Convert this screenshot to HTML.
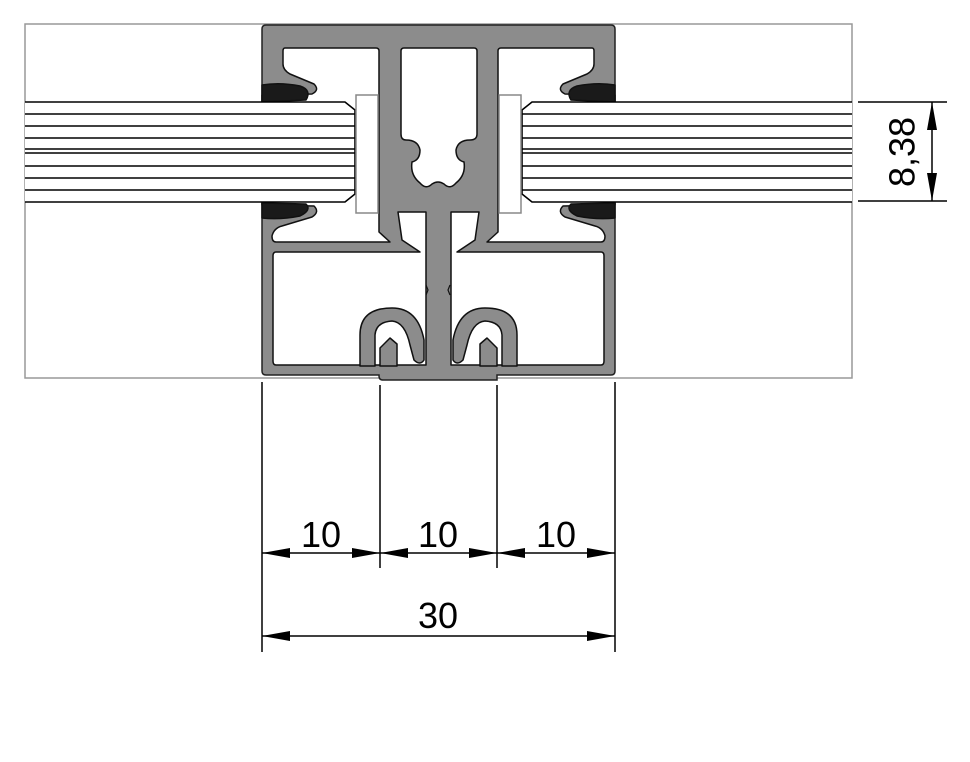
<!DOCTYPE html>
<html><head><meta charset="utf-8"><style>
html,body{margin:0;padding:0;background:#fff;}
svg{display:block;}
text{font-family:"Liberation Sans",sans-serif;fill:#000;}
</style></head><body>
<svg width="970" height="762" viewBox="0 0 970 762" xmlns="http://www.w3.org/2000/svg">
<rect x="25" y="24" width="827" height="354" fill="#fff" stroke="#999" stroke-width="1.5"/>
<path d="M266,25 H611 Q615,25 615,29 V371 Q615,375 611,375 H497 V380 H383 Q379,380 379,376 V375 H266 Q262,375 262,371 V29 Q262,25 266,25 Z" fill="#8c8c8c" stroke="#222" stroke-width="1.5"/>
<g id="half" stroke="#111" stroke-width="1.5" stroke-linejoin="round">
  <path fill="#fff" d="M285,48 H376 Q379,48 379,51 V232 L390,242 H276 Q272,242 272,236 Q274,228 282,226 L312,217 Q320,212 314,206 L262,205 V95 L312,94 Q320,90 314,84 L290,74 Q283,70 283,64 V51 Q283,48 285,48 Z"/>
  <path fill="#fff" d="M398,212 H426 V365 H276 Q273,365 273,361 V256 Q273,252 276,252 H420 L402,240 Z"/>
  <path fill="#8c8c8c" d="M360,366 V335 Q360,308 392,308 Q418,308 424,340 L424,360 Q420,366 414,360 L410,345 Q405,322 392,321 Q376,322 375,335 V366 Z"/>
  <path fill="#8c8c8c" d="M380,366 V348 L390,338 L397,344 V366 Z"/>
  <path d="M262,85 Q280,82 300,86 Q312,90 306,100 L262,102 Z" fill="#1a1a1a"/>
  <path d="M262,203 L306,204 Q312,210 300,216 Q280,220 262,218 Z" fill="#1a1a1a"/>
</g>
<use href="#half" transform="translate(877,0) scale(-1,1)"/>
<path d="M404,48 H474 Q477,48 477,51 V134 Q477,140 470,140 Q458,140 456,150 Q456,160 464,162 Q466,175 456,183 Q450,190 444,184 Q438,180 432,184 Q426,190 420,183 Q410,175 412,162 Q420,160 420,150 Q418,140 406,140 Q401,140 401,134 V51 Q401,48 404,48 Z" fill="#fff" stroke="#111" stroke-width="1.5"/>
<path d="M426,285 L428,290 L426,295 M450,285 L448,290 L450,295" fill="none" stroke="#111" stroke-width="1.2"/>
<g stroke="#000" stroke-width="1.6">
  <path d="M25,102 H345 L355,110 V194 L345,202 H25" fill="#fff"/>
  <line x1="25" y1="114" x2="355" y2="114"/><line x1="25" y1="126" x2="355" y2="126"/>
  <line x1="25" y1="138" x2="355" y2="138"/><line x1="25" y1="149" x2="355" y2="149"/>
  <line x1="25" y1="153" x2="355" y2="153"/><line x1="25" y1="166" x2="355" y2="166"/>
  <line x1="25" y1="178" x2="355" y2="178"/><line x1="25" y1="190" x2="355" y2="190"/>
  <path d="M852,102 H532 L522,110 V194 L532,202 H852" fill="#fff"/>
  <line x1="522" y1="114" x2="852" y2="114"/><line x1="522" y1="126" x2="852" y2="126"/>
  <line x1="522" y1="138" x2="852" y2="138"/><line x1="522" y1="149" x2="852" y2="149"/>
  <line x1="522" y1="153" x2="852" y2="153"/><line x1="522" y1="166" x2="852" y2="166"/>
  <line x1="522" y1="178" x2="852" y2="178"/><line x1="522" y1="190" x2="852" y2="190"/>
</g>
<rect x="356" y="95" width="22" height="118" fill="#fff" stroke="#888" stroke-width="1.5"/>
<rect x="499" y="95" width="22" height="118" fill="#fff" stroke="#888" stroke-width="1.5"/>
<g stroke="#000" stroke-width="1.5">
  <line x1="858" y1="102" x2="947" y2="102"/><line x1="858" y1="201" x2="947" y2="201"/>
  <line x1="932" y1="102" x2="932" y2="201"/>
</g>
<path d="M932,102 L927,130 L937,130 Z M932,201 L927,173 L937,173 Z" fill="#000"/>
<text x="905" y="152" font-size="36" text-anchor="middle" dominant-baseline="middle" transform="rotate(-90 905 152)">8,38</text>
<g stroke="#000" stroke-width="1.5">
  <line x1="262" y1="382" x2="262" y2="652"/><line x1="615" y1="382" x2="615" y2="652"/>
  <line x1="380" y1="385" x2="380" y2="568"/><line x1="497" y1="385" x2="497" y2="568"/>
  <line x1="262" y1="553" x2="615" y2="553"/>
  <line x1="262" y1="636" x2="615" y2="636"/>
</g>
<g fill="#000">
  <path d="M262,553 L290,548 L290,558 Z M380,553 L352,548 L352,558 Z"/>
  <path d="M380,553 L408,548 L408,558 Z M497,553 L469,548 L469,558 Z"/>
  <path d="M497,553 L525,548 L525,558 Z M615,553 L587,548 L587,558 Z"/>
  <path d="M262,636 L290,631 L290,641 Z M615,636 L587,631 L587,641 Z"/>
</g>
<text x="321" y="547" font-size="36" text-anchor="middle">10</text>
<text x="438" y="547" font-size="36" text-anchor="middle">10</text>
<text x="556" y="547" font-size="36" text-anchor="middle">10</text>
<text x="438" y="628" font-size="36" text-anchor="middle">30</text>
</svg>
</body></html>
